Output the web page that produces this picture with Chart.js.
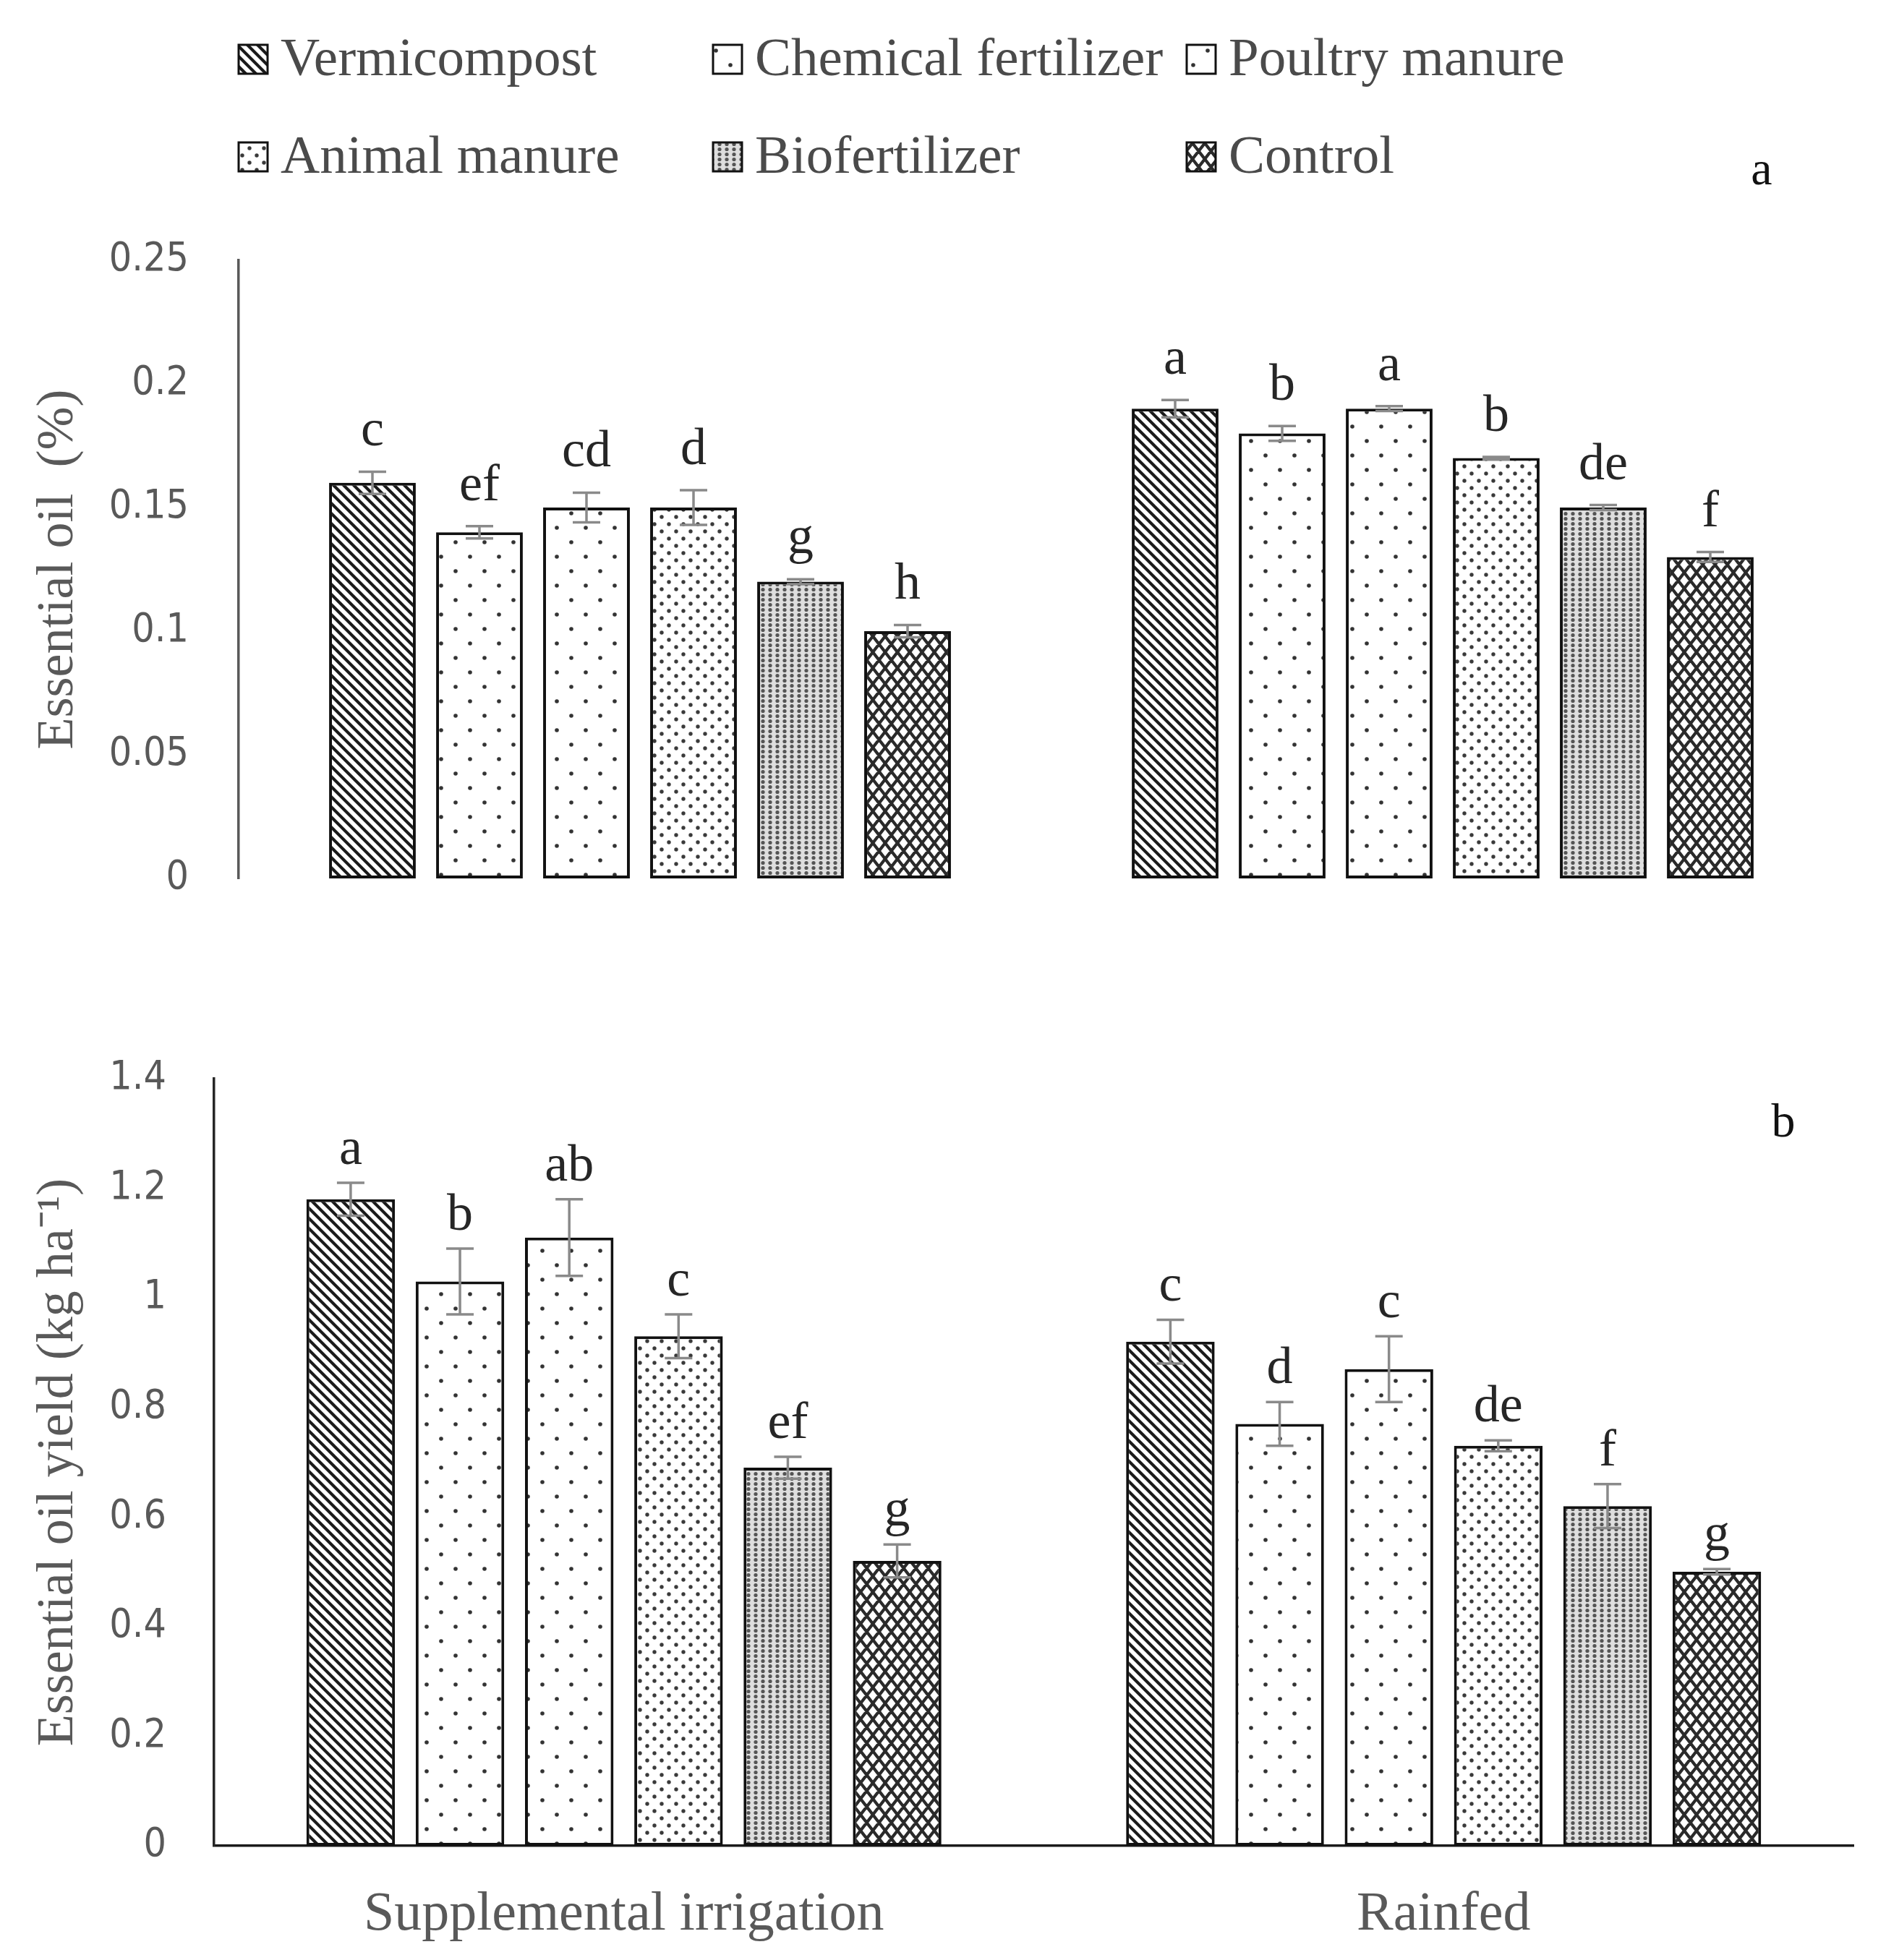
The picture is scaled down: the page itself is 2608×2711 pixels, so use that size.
<!DOCTYPE html>
<html><head><meta charset="utf-8">
<script src="https://cdn.jsdelivr.net/npm/chart.js@4.4.1/dist/chart.umd.min.js"></script>
<style>
html,body{margin:0;padding:0;background:#fff;}
body{width:2608px;height:2711px;position:relative;overflow:hidden;}
#c1{position:absolute;left:0;top:0;}
#c2{position:absolute;left:0;top:1300px;}
</style></head>
<body>
<canvas id="c1" width="2608" height="1300"></canvas>
<canvas id="c2" width="2608" height="1411"></canvas>
<script>
// ---- data ----
const groups = ['Supplemental irrigation', 'Rainfed'];
const treatments = ['Vermicompost', 'Chemical fertilizer', 'Poultry manure', 'Animal manure', 'Biofertilizer', 'Control'];

const oilSI = [0.16, 0.14, 0.15, 0.15, 0.12, 0.10];
const oilRF = [0.19, 0.18, 0.19, 0.17, 0.15, 0.13];
const oilErrSI = [0.0045, 0.0025, 0.006, 0.007, 0.001, 0.0025];
const oilErrRF = [0.0035, 0.003, 0.001, 0.0005, 0.001, 0.002];
const oilLetSI = ['c', 'ef', 'cd', 'd', 'g', 'h'];
const oilLetRF = ['a', 'b', 'a', 'b', 'de', 'f'];

const yieldSI = [1.18, 1.03, 1.11, 0.93, 0.69, 0.52];
const yieldRF = [0.92, 0.77, 0.87, 0.73, 0.62, 0.50];
const yieldErrSI = [0.03, 0.06, 0.07, 0.04, 0.02, 0.03];
const yieldErrRF = [0.04, 0.04, 0.06, 0.01, 0.04, 0.005];
const yieldLetSI = ['a', 'b', 'ab', 'c', 'ef', 'g'];
const yieldLetRF = ['c', 'd', 'c', 'de', 'f', 'g'];

const oilTicks = ['0', '0.05', '0.1', '0.15', '0.2', '0.25'];
const yieldTicks = ['0', '0.2', '0.4', '0.6', '0.8', '1', '1.2', '1.4'];

// ---- patterns ----
function tile(ctx, w, h, bg, draw) {
  const c = document.createElement('canvas');
  c.width = w; c.height = h;
  const g = c.getContext('2d');
  g.fillStyle = bg; g.fillRect(0, 0, w, h);
  draw(g, w, h);
  return ctx.createPattern(c, 'repeat');
}
function dots(g, pts, r, col) {
  g.fillStyle = col;
  pts.forEach(p => { g.beginPath(); g.arc(p[0], p[1], r, 0, Math.PI * 2); g.fill(); });
}
function makePatterns(ctx) {
  const verm = tile(ctx, 14, 14, '#fff', (g, w, h) => {
    g.strokeStyle = '#1a1a1a'; g.lineWidth = 4.2; g.beginPath();
    [-w, 0, w].forEach(k => { g.moveTo(k - 2, -2); g.lineTo(k + w + 2, h + 2); });
    g.stroke();
  });
  const chem = tile(ctx, 40, 40, '#fff', g => dots(g, [[10, 10], [30, 30]], 2.8, '#333'));
  const poul = tile(ctx, 40, 40, '#fff', g => dots(g, [[10, 10], [30, 30]], 2.8, '#333'));
  const anim = tile(ctx, 20, 20, '#fff', g => dots(g, [[5, 5], [15, 15]], 2.7, '#3a3a3a'));
  const bio = tile(ctx, 10, 7, '#dedede', g => dots(g, [[5, 3.5]], 2.6, '#555'));
  const ctrl = tile(ctx, 17, 22, '#fff', (g, w, h) => {
    g.strokeStyle = '#2a2a2a'; g.lineWidth = 4.2; g.beginPath();
    [-w, 0, w].forEach(dx => [-h, 0, h].forEach(dy => {
      g.moveTo(dx, dy); g.lineTo(dx + w, dy + h);
      g.moveTo(dx + w, dy); g.lineTo(dx, dy + h);
    }));
    g.stroke();
  });
  return [verm, chem, poul, anim, bio, ctrl];
}

function buildDatasets(ctx, si, rf, esi, erf, lsi, lrf) {
  const pats = makePatterns(ctx);
  return treatments.map((t, i) => ({
    label: t,
    data: [si[i], rf[i]],
    errs: [esi[i], erf[i]],
    letters: [lsi[i], lrf[i]],
    backgroundColor: pats[i],
    borderColor: '#111',
    borderWidth: 4,
    borderSkipped: false,
    categoryPercentage: 0.8,
    barPercentage: 0.81
  }));
}

// ---- plugins ----
const errLetters = {
  id: 'errLetters',
  afterDatasetsDraw(chart, args, o) {
    const ctx = chart.ctx, y = chart.scales.y;
    chart.data.datasets.forEach((ds, i) => {
      const meta = chart.getDatasetMeta(i);
      meta.data.forEach((bar, j) => {
        const v = ds.data[j], e = ds.errs[j];
        const yt = y.getPixelForValue(v + e), yb = y.getPixelForValue(v - e);
        ctx.save();
        ctx.strokeStyle = '#8a8a8a'; ctx.lineWidth = 3.5;
        ctx.beginPath();
        ctx.moveTo(bar.x, yt); ctx.lineTo(bar.x, yb);
        ctx.moveTo(bar.x - o.cap, yt); ctx.lineTo(bar.x + o.cap, yt);
        ctx.moveTo(bar.x - o.cap, yb); ctx.lineTo(bar.x + o.cap, yb);
        ctx.stroke();
        ctx.fillStyle = '#262626';
        ctx.font = '72px "Liberation Serif", serif';
        ctx.textAlign = 'center'; ctx.textBaseline = 'alphabetic';
        ctx.fillText(ds.letters[j], bar.x, yt - o.gap);
        ctx.restore();
      });
    });
  }
};

const gridLegend = {
  id: 'gridLegend',
  afterDraw(chart, args, o) {
    if (!o.show) return;
    const ctx = chart.ctx;
    chart.data.datasets.forEach((ds, i) => {
      const x = o.cols[i % 3], y = o.rows[Math.floor(i / 3)];
      ctx.save();
      ctx.fillStyle = ds.backgroundColor;
      ctx.fillRect(x, y - 20, 40, 40);
      ctx.lineWidth = 3; ctx.strokeStyle = '#111';
      ctx.strokeRect(x, y - 20, 40, 40);
      ctx.fillStyle = '#4a4a4a';
      ctx.font = '75px "Liberation Serif", serif';
      ctx.textAlign = 'left'; ctx.textBaseline = 'middle';
      ctx.fillText(ds.label, x + 58, y + 2);
      ctx.restore();
    });
  }
};

const panelLabel = {
  id: 'panelLabel',
  afterDraw(chart, args, o) {
    const ctx = chart.ctx;
    ctx.save();
    ctx.fillStyle = '#111';
    ctx.font = '66px "Liberation Serif", serif';
    ctx.textAlign = 'center'; ctx.textBaseline = 'middle';
    ctx.fillText(o.text, o.x, o.y);
    ctx.restore();
  }
};

Chart.defaults.font.family = '"Liberation Serif", serif';

function makeChart(id, opts) {
  const canvas = document.getElementById(id);
  const ctx = canvas.getContext('2d');
  return new Chart(ctx, {
    type: 'bar',
    data: {
      labels: groups,
      datasets: buildDatasets(ctx, ...opts.data)
    },
    plugins: [errLetters, gridLegend, panelLabel],
    options: {
      responsive: false,
      animation: false,
      devicePixelRatio: 1,
      layout: { padding: opts.padding },
      plugins: {
        legend: { display: false },
        tooltip: { enabled: false },
        errLetters: { cap: 19, gap: opts.gap },
        gridLegend: { show: opts.legend, cols: [330, 986, 1641], rows: [82, 217] },
        panelLabel: opts.panel
      },
      scales: {
        x: {
          display: true,
          grid: { display: false, drawTicks: false },
          border: { display: opts.xLine, color: '#1a1a1a', width: 3.5 },
          ticks: { display: opts.xLabels, color: '#595959', padding: 50, font: { family: '"Liberation Serif", serif', size: 76 } },
          afterFit: s => { s.height = opts.xHeight; }
        },
        y: {
          min: 0, max: opts.max,
          ticks: {
            stepSize: opts.step,
            color: '#595959',
            padding: opts.tickPad,
            font: { family: '"DejaVu Sans Condensed", "DejaVu Sans", sans-serif', size: 55 },
            callback: (v, i) => opts.ticks[i]
          },
          grid: { display: false, drawTicks: false },
          border: { display: true, color: opts.yColor, width: 3.5 },
          title: {
            display: true, text: opts.title, color: '#595959',
            font: { family: '"Liberation Serif", serif', size: 72 },
            padding: { top: 38, bottom: 0 }
          },
          afterFit: s => { s.width = opts.yWidth; s.paddingTop = 0; s.paddingBottom = 0; }
        }
      }
    }
  });
}

makeChart('c1', {
  data: [oilSI, oilRF, oilErrSI, oilErrRF, oilLetSI, oilLetRF],
  padding: { top: 360, bottom: 0, left: 0, right: 58 },
  gap: 36, legend: true, xLine: false, xLabels: false, xHeight: 85,
  max: 0.25, step: 0.05, ticks: oilTicks, tickPad: 69,
  yColor: '#595959', title: 'Essential oil  (%)', yWidth: 330,
  panel: { text: 'a', x: 2436, y: 238 }
});

makeChart('c2', {
  data: [yieldSI, yieldRF, yieldErrSI, yieldErrRF, yieldLetSI, yieldLetRF],
  padding: { top: 192, bottom: 0, left: 0, right: 45 },
  gap: 26, legend: false, xLine: true, xLabels: true, xHeight: 158,
  max: 1.4, step: 0.2, ticks: yieldTicks, tickPad: 66,
  yColor: '#262626', title: 'Essential oil yield (kg ha⁻¹)', yWidth: 296,
  panel: { text: 'b', x: 2466, y: 255 }
});
</script>
</body></html>
